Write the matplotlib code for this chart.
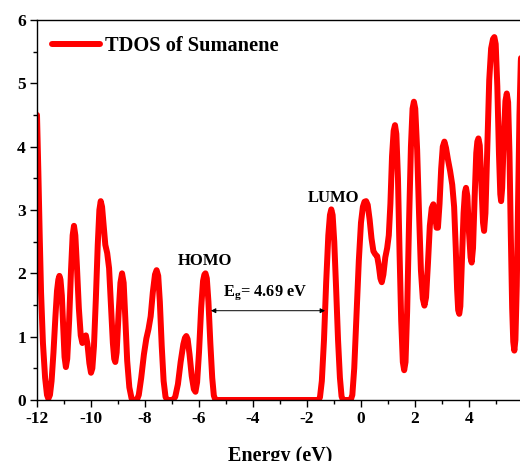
import matplotlib
matplotlib.use("Agg")
import matplotlib.pyplot as plt
from matplotlib.ticker import MultipleLocator

plt.rcParams['font.family'] = ['Liberation Serif', 'DejaVu Serif']
plt.rcParams['font.weight'] = 'bold'
plt.rcParams['axes.unicode_minus'] = False
plt.rcParams['mathtext.fontset'] = 'custom'
plt.rcParams['mathtext.rm'] = 'Liberation Serif:bold'
plt.rcParams['mathtext.bf'] = 'Liberation Serif:bold'

energy = [
    -12.00, -11.95, -11.90, -11.85, -11.78, -11.70, -11.63, -11.58, -11.52, -11.46,
    -11.39, -11.32, -11.26, -11.21, -11.17, -11.13, -11.08, -11.03, -10.98, -10.93,
    -10.88, -10.81, -10.74, -10.68, -10.63, -10.58, -10.52, -10.45, -10.38, -10.32,
    -10.25, -10.19, -10.13, -10.06, -10.00, -9.95, -9.89, -9.82, -9.75, -9.69,
    -9.64, -9.59, -9.53, -9.47, -9.40, -9.33, -9.26, -9.19, -9.14, -9.10,
    -9.05, -8.98, -8.91, -8.85, -8.79, -8.73, -8.66, -8.58, -8.50, -8.43,
    -8.30, -8.23, -8.14, -8.04, -7.95, -7.87, -7.79, -7.71, -7.63, -7.57,
    -7.51, -7.45, -7.38, -7.31, -7.24, -7.18, -6.97, -6.88, -6.78, -6.68,
    -6.58, -6.52, -6.47, -6.42, -6.35, -6.27, -6.19, -6.13, -6.07, -6.00,
    -5.92, -5.85, -5.80, -5.76, -5.71, -5.65, -5.58, -5.51, -5.45, -5.39,
    -1.58, -1.52, -1.45, -1.37, -1.29, -1.21, -1.15, -1.10, -1.05, -0.99,
    -0.92, -0.85, -0.78, -0.72, -0.67, -0.38, -0.32, -0.25, -0.17, -0.08,
    0.00, 0.07, 0.13, 0.19, 0.25, 0.32, 0.39, 0.46, 0.53, 0.60,
    0.66, 0.72, 0.77, 0.83, 0.90, 0.97, 1.03, 1.09, 1.15, 1.21,
    1.26, 1.31, 1.37, 1.43, 1.49, 1.55, 1.60, 1.65, 1.71, 1.78,
    1.85, 1.91, 1.96, 2.01, 2.08, 2.15, 2.22, 2.29, 2.35, 2.41,
    2.48, 2.55, 2.62, 2.68, 2.74, 2.80, 2.85, 2.91, 2.97, 3.03,
    3.09, 3.15, 3.22, 3.30, 3.38, 3.45, 3.51, 3.56, 3.60, 3.64,
    3.68, 3.74, 3.80, 3.85, 3.89, 3.94, 4.00, 4.06, 4.10, 4.15,
    4.21, 4.27, 4.31, 4.35, 4.40, 4.46, 4.52, 4.56, 4.61, 4.68,
    4.75, 4.82, 4.89, 4.94, 4.99, 5.05, 5.11, 5.16, 5.19, 5.23,
    5.29, 5.35, 5.40, 5.45, 5.50, 5.55, 5.60, 5.64, 5.68, 5.72,
    5.77, 5.82, 5.87, 5.92, 5.97,
]
tdos = [
    4.50, 3.60, 2.60, 1.70, 0.90, 0.35, 0.08, 0.02, 0.08, 0.30,
    0.75, 1.30, 1.72, 1.90, 1.96, 1.90, 1.65, 1.15, 0.68, 0.52,
    0.65, 1.25, 2.05, 2.60, 2.75, 2.60, 2.10, 1.45, 1.02, 0.90,
    0.96, 1.02, 0.88, 0.58, 0.43, 0.50, 0.85, 1.60, 2.45, 3.00,
    3.14, 3.05, 2.75, 2.45, 2.32, 2.08, 1.50, 0.90, 0.65, 0.60,
    0.75, 1.35, 1.85, 2.00, 1.85, 1.30, 0.62, 0.20, 0.03, 0.00,
    0.00, 0.08, 0.35, 0.72, 0.97, 1.12, 1.32, 1.70, 1.98, 2.05,
    1.96, 1.55, 0.85, 0.30, 0.05, 0.00, 0.00, 0.05, 0.25, 0.60,
    0.88, 0.98, 1.01, 0.96, 0.72, 0.38, 0.17, 0.13, 0.28, 0.75,
    1.45, 1.88, 1.98, 2.00, 1.92, 1.55, 0.90, 0.35, 0.07, 0.00,
    0.00, 0.04, 0.30, 0.95, 1.85, 2.60, 2.92, 3.01, 2.92, 2.50,
    1.75, 0.95, 0.35, 0.06, 0.00, 0.00, 0.08, 0.50, 1.30, 2.20,
    2.80, 3.05, 3.13, 3.14, 3.08, 2.85, 2.55, 2.35, 2.30, 2.27,
    2.12, 1.92, 1.86, 1.98, 2.25, 2.40, 2.60, 3.10, 3.85, 4.25,
    4.34, 4.20, 3.50, 2.30, 1.25, 0.60, 0.47, 0.60, 1.40, 2.80,
    4.00, 4.60, 4.71, 4.60, 3.95, 2.95, 2.05, 1.60, 1.49, 1.62,
    2.15, 2.75, 3.03, 3.09, 2.95, 2.72, 2.72, 3.10, 3.65, 4.00,
    4.08, 3.98, 3.80, 3.62, 3.40, 3.05, 2.40, 1.75, 1.42, 1.36,
    1.48, 2.20, 2.95, 3.28, 3.35, 3.22, 2.65, 2.25, 2.17, 2.40,
    3.20, 3.90, 4.08, 4.13, 4.02, 3.40, 2.80, 2.67, 2.95, 4.00,
    5.05, 5.55, 5.70, 5.73, 5.62, 4.95, 3.90, 3.25, 3.14, 3.35,
    4.15, 4.72, 4.84, 4.70, 3.90, 2.60, 1.45, 0.92, 0.78, 0.95,
    1.80, 3.20, 4.50, 5.35, 5.70,
]

x_ticks = [-12, -10, -8, -6, -4, -2, 0, 2, 4]
y_ticks = [0, 1, 2, 3, 4, 5, 6]
series_label = "TDOS of Sumanene"
homo_energy = -5.56
lumo_energy = -1.33
gap_label = r"E$_\mathbf{g}$= 4.69 eV"

fig = plt.figure(figsize=(5.2, 4.61), dpi=100)
ax = fig.add_axes([37/520, 61/461, 483/520, 380/461])

ax.plot(energy, tdos, color='#ff0000', lw=4.3, solid_joinstyle='round',
        solid_capstyle='round', label=series_label)

ax.set_xlim(-12, 5.89)
ax.set_ylim(0, 6)
ax.set_xticks(x_ticks)
ax.set_yticks(y_ticks)
ax.xaxis.set_minor_locator(MultipleLocator(1))
ax.yaxis.set_minor_locator(MultipleLocator(0.5))
ax.tick_params(which='major', direction='out', length=5, width=1, labelsize=12.5, pad=3)
ax.tick_params(which='minor', direction='out', length=3, width=1)
for lab in ax.get_xticklabels() + ax.get_yticklabels():
    lab.set_fontweight('bold')
ax.spines['right'].set_visible(False)
for s in ['left', 'top', 'bottom']:
    ax.spines[s].set_linewidth(1)

ax.set_xlabel("Energy (eV)", fontsize=14.5, fontweight='bold')
ax.xaxis.set_label_coords((280 - 37) / 483, -0.121)

leg = ax.legend(loc='upper left', bbox_to_anchor=(0.031, 0.957), frameon=False,
                borderpad=0, borderaxespad=0, handlelength=2.35, handletextpad=0.25,
                prop={'family': 'Liberation Serif', 'weight': 'bold', 'size': 14.7})

ax.text(-5.78, 2.2, "HOMO", ha='center', va='center', fontsize=12, fontweight='bold')
ax.text(-1.0, 3.19, "LUMO", ha='center', va='center', fontsize=12, fontweight='bold')
ax.text(-3.56, 1.70, gap_label, ha='center', va='center', fontsize=11.8, fontweight='bold')
ax.annotate("", xy=(homo_energy, 1.41), xytext=(lumo_energy, 1.41),
            arrowprops=dict(arrowstyle='<|-|>', color='black', lw=0.7,
                            mutation_scale=7, shrinkA=0, shrinkB=0))

fig.savefig("out.png", dpi=100)
